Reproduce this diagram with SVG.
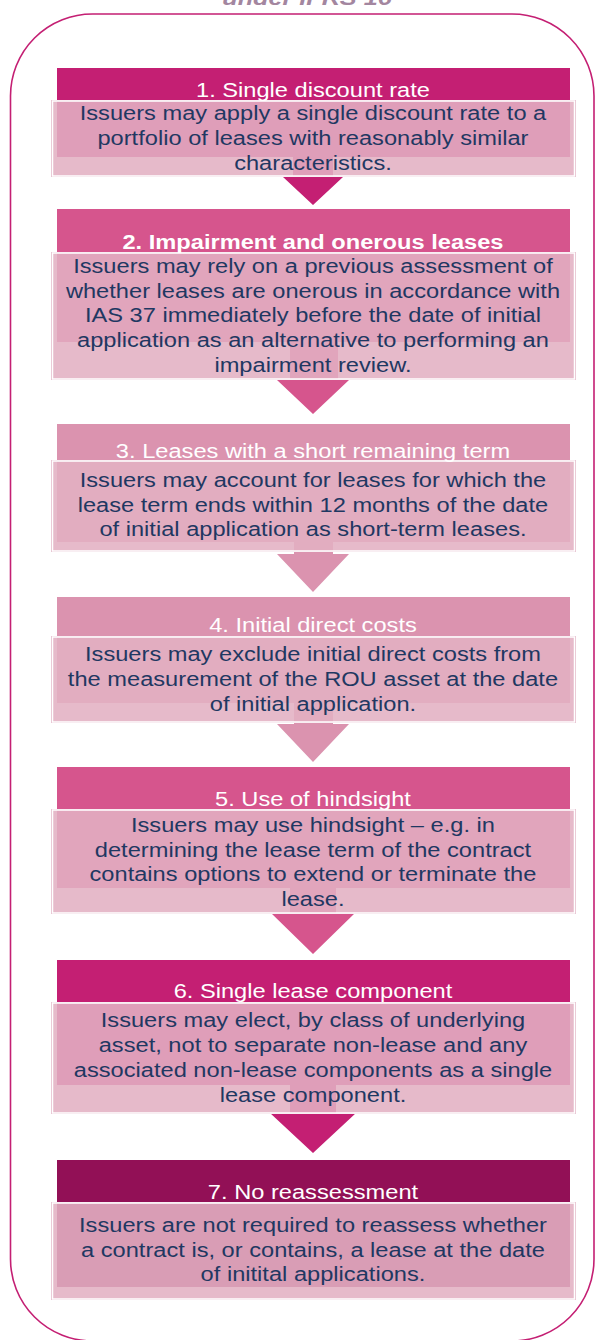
<svg xmlns="http://www.w3.org/2000/svg" width="595" height="1340" viewBox="0 0 595 1340">
<style>
.hd1{fill:#C41F73}.hd2{fill:#D6558D}.hd3{fill:#DB93AF}.hd7{fill:#921056}
.body{fill:#E2B1C3;fill-opacity:0.88;stroke:#FFFFFF;stroke-width:1.5}
.edge{fill:none;stroke:#E3BACA;stroke-width:1}
.t{font-family:"Liberation Sans",Arial,sans-serif;font-size:20.8px;text-anchor:middle}
.tt{fill:#FFFFFF}.tb{fill:#1F3862}
</style>
<rect x="10.5" y="14" width="583.5" height="1327" rx="82" ry="82" fill="none" stroke="#C41F73" stroke-width="1.6"/>
<text x="307" y="5" transform="matrix(1.2 0 0 1 -61.4 0)" style="font-family:'Liberation Sans',Arial,sans-serif;font-size:21px;font-weight:bold;font-style:italic;text-anchor:middle" fill="#A3869F">under IFRS 16</text>
<g id="connectors">
<polygon class="hd1" points="293,150 333,150 333,177 343,177 313,205 283,177 293,177"/>
<polygon class="hd2" points="290,330 338,330 338,380 349,380 313,414 277,380 290,380"/>
<polygon class="hd3" points="294,530 333,530 333,554 349,554 313,592 277,554 294,554"/>
<polygon class="hd3" points="294,695 333,695 333,724 349,724 313,762 277,724 294,724"/>
<polygon class="hd2" points="290,880 336,880 336,913 355,913 313,954 271,913 290,913"/>
<polygon class="hd1" points="290,1080 336,1080 336,1113 356,1113 313,1153 270,1113 290,1113"/>
</g>
<g id="node1">
<rect class="hd1" x="57" y="68" width="513" height="89"/>
<rect class="edge" x="51.5" y="100.5" width="524" height="76"/>
<rect class="body" x="52.5" y="101" width="522" height="75"/>
<g class="t" transform="matrix(1.137 0 0 1 -42.9 0)">
<text class="tt" x="313" y="97">1. Single discount rate</text>
<text class="tb" x="313" y="120.5">Issuers may apply a single discount rate to a</text>
<text class="tb" x="313" y="145.2">portfolio of leases with reasonably similar</text>
<text class="tb" x="313" y="169.9">characteristics.</text>
</g>
</g>
<g id="node2">
<rect class="hd2" x="57" y="209" width="513" height="133"/>
<rect class="edge" x="51.5" y="252.5" width="524" height="127"/>
<rect class="body" x="52.5" y="253" width="522" height="126"/>
<g class="t" transform="matrix(1.137 0 0 1 -42.9 0)">
<text class="tt" x="313" y="249.5" font-weight="bold">2. Impairment and onerous leases</text>
<text class="tb" x="313" y="273">Issuers may rely on a previous assessment of</text>
<text class="tb" x="313" y="297.7">whether leases are onerous in accordance with</text>
<text class="tb" x="313" y="322.4">IAS 37 immediately before the date of initial</text>
<text class="tb" x="313" y="347.1">application as an alternative to performing an</text>
<text class="tb" x="313" y="371.8">impairment review.</text>
</g>
</g>
<g id="node3">
<rect class="hd3" x="57" y="424" width="513" height="118"/>
<rect class="edge" x="51.5" y="460.5" width="524" height="91"/>
<rect class="body" x="52.5" y="461" width="522" height="90"/>
<g class="t" transform="matrix(1.137 0 0 1 -42.9 0)">
<text class="tt" x="313" y="458">3. Leases with a short remaining term</text>
<text class="tb" x="313" y="487">Issuers may account for leases for which the</text>
<text class="tb" x="313" y="511.7">lease term ends within 12 months of the date</text>
<text class="tb" x="313" y="536.4">of initial application as short-term leases.</text>
</g>
</g>
<g id="node4">
<rect class="hd3" x="57" y="597" width="513" height="106"/>
<rect class="edge" x="51.5" y="636.5" width="524" height="86"/>
<rect class="body" x="52.5" y="637" width="522" height="85"/>
<g class="t" transform="matrix(1.137 0 0 1 -42.9 0)">
<text class="tt" x="313" y="632">4. Initial direct costs</text>
<text class="tb" x="313" y="661.5">Issuers may exclude initial direct costs from</text>
<text class="tb" x="313" y="686.2">the measurement of the ROU asset at the date</text>
<text class="tb" x="313" y="710.9">of initial application.</text>
</g>
</g>
<g id="node5">
<rect class="hd2" x="57" y="767" width="513" height="121"/>
<rect class="edge" x="51.5" y="809.5" width="524" height="104"/>
<rect class="body" x="52.5" y="810" width="522" height="103"/>
<g class="t" transform="matrix(1.137 0 0 1 -42.9 0)">
<text class="tt" x="313" y="806">5. Use of hindsight</text>
<text class="tb" x="313" y="832">Issuers may use hindsight – e.g. in</text>
<text class="tb" x="313" y="856.7">determining the lease term of the contract</text>
<text class="tb" x="313" y="881.4">contains options to extend or terminate the</text>
<text class="tb" x="313" y="906.1">lease.</text>
</g>
</g>
<g id="node6">
<rect class="hd1" x="57" y="960" width="513" height="125"/>
<rect class="edge" x="51.5" y="1002.5" width="524" height="111"/>
<rect class="body" x="52.5" y="1003" width="522" height="110"/>
<g class="t" transform="matrix(1.137 0 0 1 -42.9 0)">
<text class="tt" x="313" y="998">6. Single lease component</text>
<text class="tb" x="313" y="1027.5">Issuers may elect, by class of underlying</text>
<text class="tb" x="313" y="1052.2">asset, not to separate non-lease and any</text>
<text class="tb" x="313" y="1076.9">associated non-lease components as a single</text>
<text class="tb" x="313" y="1101.6">lease component.</text>
</g>
</g>
<g id="node7">
<rect class="hd7" x="57" y="1160" width="513" height="127"/>
<rect class="edge" x="51.5" y="1202.5" width="524" height="97"/>
<rect class="body" x="52.5" y="1203" width="522" height="96"/>
<g class="t" transform="matrix(1.137 0 0 1 -42.9 0)">
<text class="tt" x="313" y="1199">7. No reassessment</text>
<text class="tb" x="313" y="1232">Issuers are not required to reassess whether</text>
<text class="tb" x="313" y="1256.7">a contract is, or contains, a lease at the date</text>
<text class="tb" x="313" y="1281.4">of initital applications.</text>
</g>
</g>
</svg>
